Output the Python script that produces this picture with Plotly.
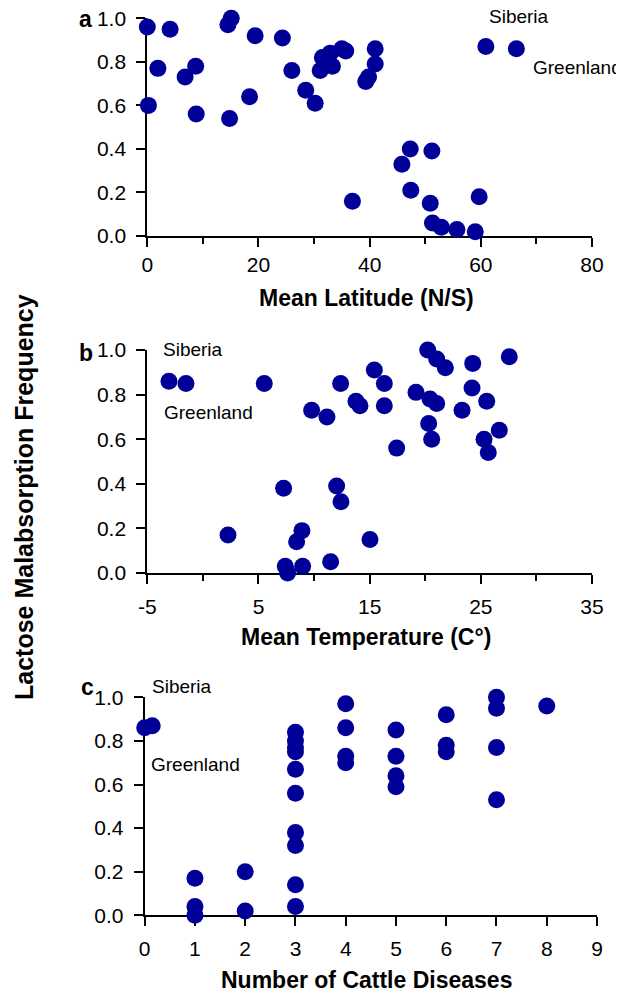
import plotly.graph_objects as go

# ---- data ----
latitude = [0, 4.1, 0.2, 1.9, 6.8, 8.7, 8.8, 14.5, 15.1, 14.8, 18.4, 19.4, 24.3, 26.0, 28.5,
            30.2, 31.1, 31.5, 32.9, 33.3, 35.0, 35.7, 36.9, 39.3, 39.8, 41.0, 41.0, 45.8,
            47.3, 47.4, 51.2, 50.9, 51.3, 52.9, 55.7, 59.0, 59.7, 60.9, 66.4]
freq_lat = [0.96, 0.95, 0.60, 0.77, 0.73, 0.78, 0.56, 0.97, 1.0, 0.54, 0.64, 0.92, 0.91, 0.76,
            0.67, 0.61, 0.76, 0.82, 0.84, 0.78, 0.86, 0.85, 0.16, 0.71, 0.73, 0.79, 0.86, 0.33,
            0.40, 0.21, 0.39, 0.15, 0.06, 0.04, 0.03, 0.02, 0.18, 0.87, 0.86]

temperature = [-3.05, -1.52, 5.52, 2.26, 7.26, 7.41, 7.62, 8.43, 8.91, 8.97, 9.78, 11.16, 11.49,
               12.03, 12.42, 12.39, 13.77, 14.13, 15.03, 15.42, 16.32, 16.32, 17.43, 19.17,
               20.22, 21.03, 21.81, 20.43, 21.03, 20.31, 20.58, 23.31, 24.27, 24.21, 25.53,
               25.29, 25.67, 26.66, 27.56]
freq_temp = [0.86, 0.85, 0.85, 0.17, 0.38, 0.03, 0.0, 0.14, 0.19, 0.03, 0.73, 0.70, 0.05, 0.39,
             0.32, 0.85, 0.77, 0.75, 0.15, 0.91, 0.85, 0.75, 0.56, 0.81, 1.0, 0.96, 0.92, 0.78,
             0.76, 0.67, 0.60, 0.73, 0.94, 0.83, 0.77, 0.60, 0.54, 0.64, 0.97]

diseases = [0, 0.15, 1, 1, 1, 2, 2, 3, 3, 3, 3, 3, 3, 3, 3, 3, 3, 4, 4, 4, 4, 5, 5, 5, 5,
            6, 6, 6, 7, 7, 7, 7, 8]
freq_dis = [0.86, 0.87, 0.17, 0.04, 0.0, 0.20, 0.02, 0.84, 0.80, 0.77, 0.75, 0.67, 0.56, 0.38,
            0.32, 0.14, 0.04, 0.97, 0.86, 0.73, 0.70, 0.85, 0.73, 0.64, 0.59, 0.92, 0.78, 0.75,
            1.0, 0.95, 0.77, 0.53, 0.96]

y_ticks = [0, 0.2, 0.4, 0.6, 0.8, 1.0]
y_ticktext = ["0.0", "0.2", "0.4", "0.6", "0.8", "1.0"]
temp_ticks = [-5, 5, 15, 25, 35]
temp_ticktext = ["-5", "5", "15", "25", "35"]

COLOR = "#000099"
FONT = "Liberation Sans, Arial, Helvetica, sans-serif"
OFF = 8                      # page body margin of the browser
W, H = 624 - OFF, 994 - OFF

fig = go.Figure()
for xs, ys, xa, ya in [(latitude, freq_lat, "x", "y"),
                       (temperature, freq_temp, "x2", "y2"),
                       (diseases, freq_dis, "x3", "y3")]:
    fig.add_trace(go.Scatter(x=xs, y=ys, xaxis=xa, yaxis=ya, mode="markers",
                             marker=dict(color=COLOR, size=17, line=dict(width=0)),
                             cliponaxis=False, showlegend=False, hoverinfo="skip"))

def px_x(p):
    return (p - OFF) / W

def px_y(p):
    return 1 - (p - OFF) / H

common_x = dict(showline=True, linecolor="black", linewidth=2, ticks="outside", ticklen=9,
                tickwidth=2, tickcolor="black", showgrid=False, zeroline=False,
                tickfont=dict(family=FONT, size=21, color="black"), layer="below traces",
                automargin=False, ticklabeloverflow="allow")
common_y = dict(showline=True, linecolor="black", linewidth=2, ticks="outside", ticklen=9,
                tickwidth=2, tickcolor="black", showgrid=False, zeroline=False,
                tickfont=dict(family=FONT, size=21, color="black"), layer="below traces",
                range=[0, 1], tickvals=y_ticks, ticktext=y_ticktext, ticklabelstandoff=6,
                automargin=False, ticklabeloverflow="allow")
minor = dict(dtick=10, tick0=0, ticks="outside", ticklen=6, tickwidth=2,
             tickcolor="black", showgrid=False)

fig.update_layout(
    width=W, height=H, margin=dict(l=0, r=0, t=0, b=0),
    paper_bgcolor="white", plot_bgcolor="white",
    font=dict(family=FONT, color="black"),
    xaxis=dict(common_x, domain=[px_x(147.3), px_x(592)], range=[0, 80], dtick=20, tick0=0,
               minor=minor, anchor="y", ticklabelstandoff=0),
    yaxis=dict(common_y, domain=[px_y(236), px_y(18.3)], anchor="x"),
    xaxis2=dict(common_x, domain=[px_x(147.3), px_x(592)], range=[-5, 35],
                tickvals=temp_ticks, ticktext=temp_ticktext,
                minor=minor, anchor="y2", ticklabelstandoff=5),
    yaxis2=dict(common_y, domain=[px_y(573), px_y(350)], anchor="x2"),
    xaxis3=dict(common_x, domain=[px_x(144.7), px_x(597)], range=[0, 9], dtick=1, tick0=0,
                anchor="y3", ticklabelstandoff=4),
    yaxis3=dict(common_y, domain=[px_y(915.3), px_y(697.3)], anchor="x3"),
)

ann = []
# panel letters
for letter, (px, py) in zip(["a", "b", "c"], [(86, 19), (86, 353), (88, 687)]):
    ann.append(dict(text="<b>%s</b>" % letter, x=px_x(px), y=px_y(py), xref="paper", yref="paper",
                    showarrow=False, xanchor="center", yanchor="middle",
                    font=dict(family=FONT, size=23, color="black")))
# x axis titles
for title, py in [("Mean Latitude (N/S)", 298), ("Mean Temperature (C°)", 637),
                  ("Number of Cattle Diseases", 980)]:
    ann.append(dict(text="<b>%s</b>" % title, x=px_x(366), y=px_y(py), xref="paper", yref="paper",
                    showarrow=False, xanchor="center", yanchor="middle",
                    font=dict(family=FONT, size=23, color="black")))
# y axis title
ann.append(dict(text="<b>Lactose Malabsorption Frequency</b>", x=px_x(24), y=px_y(497),
                xref="paper", yref="paper", showarrow=False, textangle=-90,
                xanchor="center", yanchor="middle", font=dict(family=FONT, size=25, color="black")))
# place labels (pixel positions of left edge / vertical centre)
labels = [("Siberia", 486.7, 16.5), ("Greenland", 531, 67.7),
          ("Siberia", 161, 349), ("Greenland", 162, 412.7),
          ("Siberia", 150, 686.7), ("Greenland", 149.3, 764.3)]
for t, px, py in labels:
    ann.append(dict(text=t, x=px_x(px), y=px_y(py), xref="paper", yref="paper", showarrow=False,
                    xanchor="left", yanchor="middle", font=dict(family=FONT, size=19, color="black")))
fig.update_layout(annotations=ann)

fig.write_html("out.html")
